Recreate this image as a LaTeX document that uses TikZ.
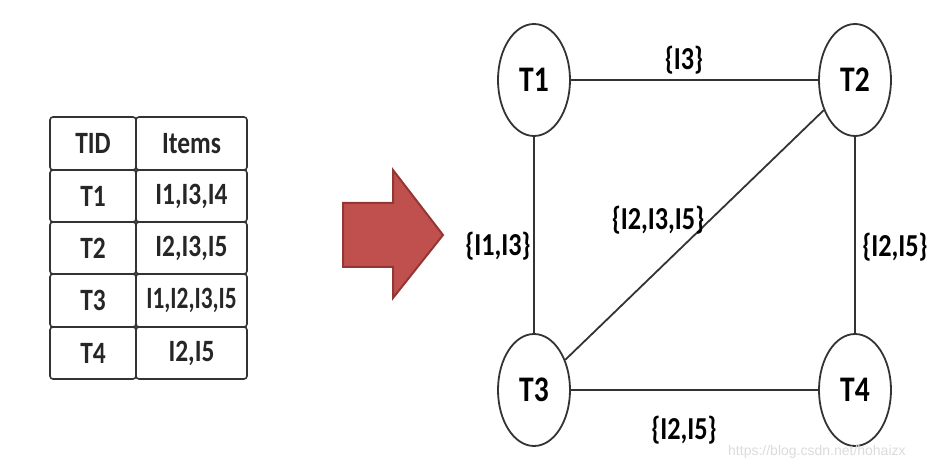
\documentclass[tikz,border=0pt]{standalone}
\usepackage{fontspec}
\usetikzlibrary{shapes.geometric}
\setmainfont{Carlito}
\newfontfamily\cf[FakeStretch=0.82]{Carlito}
\newfontfamily\wmfont{Liberation Sans}
\begin{document}
\begin{tikzpicture}[x=1pt,y=-1pt,
  cellbox/.style={draw=black!80,line width=1.6pt,rounded corners=3pt},
  celltext/.style={font=\cf\fontsize{31}{34}\selectfont\bfseries,text=black!85,inner sep=0pt},
  tnode/.style={draw=black!80,line width=1.8pt,ellipse,minimum width=72pt,minimum height=112pt,inner sep=0pt,font=\cf\fontsize{36}{40}\selectfont\bfseries},
  edge/.style={draw=black!80,line width=1.8pt},
  elabel/.style={font=\cf\fontsize{32}{35}\selectfont\bfseries,inner sep=0pt}]
\useasboundingbox (0,0) rectangle (938,470);
% table
\foreach \r/\ya/\yb/\a/\b/\s in {0/117/170/TID/Items/1,1/170/222/T1/{I1,I3,I4}/1,2/222/274/T2/{I2,I3,I5}/1,3/274/327/T3/{I1,I2,I3,I5}/0.92,4/327/379/T4/{I2,I5}/1}{
  \draw[cellbox] (50,\ya) rectangle (136,\yb);
  \draw[cellbox] (136,\ya) rectangle (247,\yb);
  \node[celltext] (c\r a) at (93,{(\ya+\yb)/2}) {\a};
  \node[celltext] (c\r b) at (191.5,{(\ya+\yb)/2}) {\scalebox{\s}[1]{\b}};
}
% arrow
\draw[fill={rgb,255:red,192;green,80;blue,77},draw={rgb,255:red,148;green,54;blue,52},line width=2pt]
  (343,203) -- (393,203) -- (393,170) -- (443,235) -- (393,298) -- (393,267) -- (343,267) -- cycle;
% graph
\node[tnode] (T1) at (534,80) {T1};
\node[tnode] (T2) at (855,80) {T2};
\node[tnode] (T3) at (534,390) {T3};
\node[tnode] (T4) at (855,390) {T4};
\draw[edge] (T1) -- (T2);
\draw[edge] (T1) -- (T3);
\draw[edge] (T2) -- (T4);
\draw[edge] (T3) -- (T4);
\draw[edge] (T3) -- (T2);
\node[elabel] (l12) at (684,60) {\{I3\}};
\node[elabel] (l13) at (498,246) {\{I1,I3\}};
\node[elabel] (l23) at (658,220) {\{I2,I3,I5\}};
\node[elabel] (l24) at (895,247) {\{I2,I5\}};
\node[elabel] (l34) at (684,430) {\{I2,I5\}};
\node[font=\wmfont\fontsize{14}{16}\selectfont,text=black!14,anchor=west,inner sep=0pt] (wm) at (728,452) {https://blog.csdn.net/hohaizx};
\end{tikzpicture}
\end{document}
